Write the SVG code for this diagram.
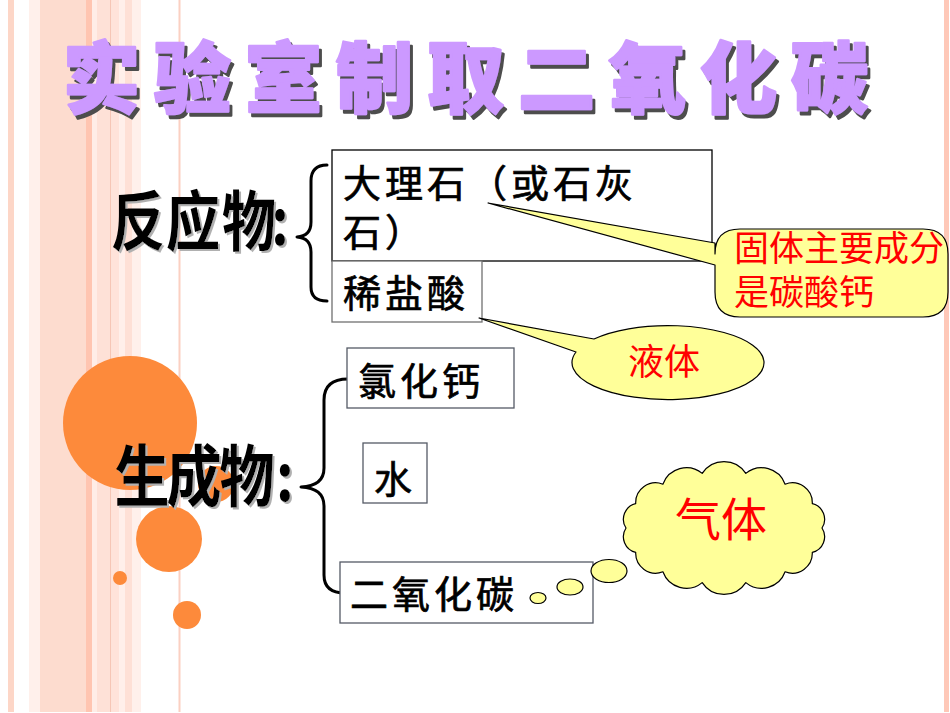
<svg xmlns="http://www.w3.org/2000/svg" width="950" height="713" viewBox="0 0 950 713">
<defs>
<filter id="tsh" x="-10%" y="-10%" width="130%" height="140%">
<feDropShadow dx="3" dy="4" stdDeviation="0.3" flood-color="#4d4d4d" flood-opacity="1"/>
</filter>
<filter id="lsh" x="-10%" y="-10%" width="130%" height="140%">
<feDropShadow dx="2" dy="2" stdDeviation="0.5" flood-color="#b0b0b0" flood-opacity="1"/>
</filter>
</defs>
<style>
.title{font-family:"Noto Sans CJK SC","Noto Sans",sans-serif;font-size:77px;font-weight:900;text-anchor:middle;fill:#cc99ff;stroke:#cc99ff;stroke-width:2.5;stroke-linejoin:round}
.label{font-family:"Noto Sans CJK SC","Noto Sans",sans-serif;font-weight:bold;text-anchor:middle;fill:#000}
.box{fill:#fff;stroke:#555a66;stroke-width:1.3}
.bt{font-family:"Liberation Sans","Noto Sans CJK SC",sans-serif;font-size:38px;font-weight:normal;fill:#000;stroke:#000;stroke-width:0.7;letter-spacing:4px}
.rt{font-family:"Liberation Sans","Noto Sans CJK SC",sans-serif;font-weight:normal;fill:#ff0000}
.call{fill:#ffff99;stroke:#000;stroke-width:1.2;stroke-linejoin:round}
.brace{fill:none;stroke:#000;stroke-width:3;stroke-linecap:round;stroke-linejoin:round}
.dot{fill:#fd8a3b}
</style>
<rect width="950" height="713" fill="#fff"/>
<g id="stripes">
<rect x="8" y="0" width="6" height="712" fill="#fdd6c7"/>
<rect x="29" y="0" width="11" height="712" fill="#fff0eb"/>
<rect x="40" y="0" width="46" height="712" fill="#fddccf"/>
<rect x="86" y="0" width="6" height="712" fill="#ffc5b1"/>
<rect x="92" y="0" width="5" height="712" fill="#ffede7"/>
<rect x="97" y="0" width="13" height="712" fill="#fee1d7"/>
<rect x="110" y="0" width="1.5" height="712" fill="#f6c6b6"/>
<rect x="111.5" y="0" width="8" height="712" fill="#ffe3da"/>
<rect x="119.5" y="0" width="5.5" height="712" fill="#ffefea"/>
<rect x="125" y="0" width="7" height="712" fill="#fee0d6"/>
<rect x="132" y="0" width="9" height="712" fill="#fff0eb"/>
<rect x="178.5" y="0" width="2" height="712" fill="#fbd0c2"/>
<rect x="944" y="0" width="5" height="712" fill="#fec8b8"/>
</g>
<g id="circles">
<circle class="dot" cx="130" cy="423" r="67"/>
<circle class="dot" cx="216" cy="484" r="18"/>
<circle class="dot" cx="169" cy="539" r="33"/>
<circle class="dot" cx="120" cy="578" r="7"/>
<circle class="dot" cx="187" cy="615" r="14"/>
</g>
<g id="title" filter="url(#tsh)">
<text class="title" x="101.5 192.5 283.5 374.5 465.5 556.5 647.5 738.5 829.5" y="107">实验室制取二氧化碳</text>
</g>
<g id="label-reactants" filter="url(#lsh)">
<text class="label" font-size="54" transform="translate(0,245) scale(1,1.2)" x="138 193 249 280" y="0">反应物:</text>
</g>
<g id="label-products" filter="url(#lsh)">
<text class="label" font-size="55" transform="translate(0,501) scale(1,1.22)" x="142 194 247 285" y="0">生成物:</text>
</g>
<g id="connectors">
<path class="brace" d="M327,165 Q311,165 311,181 L311,222 Q311,236 297,237 Q311,238 311,252 L311,287 Q311,301 327,301"/>
<path class="brace" d="M348,379 Q324,379 324,400 L324,468 Q324,486 301,487 Q324,488 324,506 L324,575 Q324,593 345,593"/>
</g>
<g id="node-marble">
<rect x="332" y="150" width="380" height="111" fill="#fff" stroke="#000" stroke-width="1.3"/>
<text class="bt" x="343" y="197">大理石（或石灰</text>
<text class="bt" x="343" y="246">石）</text>
</g>
<g id="node-hcl">
<rect x="332" y="261" width="150" height="61" fill="#fff" stroke="#707070" stroke-width="1.3"/>
<text class="bt" x="343" y="307">稀盐酸</text>
</g>
<g id="node-cacl2">
<rect class="box" x="347" y="348" width="167" height="60"/>
<text class="bt" x="358" y="395">氯化钙</text>
</g>
<g id="node-water">
<rect class="box" x="363" y="443" width="64" height="60"/>
<text class="bt" x="395" y="493" text-anchor="middle" letter-spacing="0">水</text>
</g>
<g id="node-co2">
<rect class="box" x="340" y="562" width="253" height="61"/>
<text class="bt" x="350" y="608">二氧化碳</text>
</g>
<g id="callout-solid">
<path class="call" d="M740,229 H923 Q948,229 948,254 V292 Q948,317 923,317 H740 Q715,317 715,292 V265 L488,203 L715,243 V254 Q715,229 740,229 Z"/>
<text class="rt" font-size="35" x="734" y="261">固体主要成分</text>
<text class="rt" font-size="35" x="734" y="305">是碳酸钙</text>
</g>
<g id="callout-liquid">
<path class="call" d="M594,339 A96,37 0 1 1 576,352 L479,318 Z"/>
<text class="rt" font-size="36" x="664" y="375" text-anchor="middle">液体</text>
</g>
<g id="callout-gas">
<ellipse class="call" cx="538" cy="598" rx="8" ry="5.5"/>
<ellipse class="call" cx="570" cy="587" rx="13" ry="8"/>
<ellipse class="call" cx="609" cy="571" rx="18" ry="11.5"/>
<path class="call" d="M822,528 A16,16 0 0 1 812.3,552.3 A20,20 0 0 1 785.1,571.8 A25,25 0 0 1 745.8,582.6 A26,26 0 0 1 702.2,582.6 A25,25 0 0 1 662.9,571.8 A20,20 0 0 1 635.7,552.3 A16,16 0 0 1 626,528 A16,16 0 0 1 635.7,503.7 A20,20 0 0 1 662.9,484.2 A25,25 0 0 1 702.2,473.4 A26,26 0 0 1 745.8,473.4 A25,25 0 0 1 785.1,484.2 A20,20 0 0 1 812.3,503.7 A16,16 0 0 1 822,528 Z"/>
<text class="rt" font-size="46" x="721" y="536" text-anchor="middle">气体</text>
</g>
</svg>
